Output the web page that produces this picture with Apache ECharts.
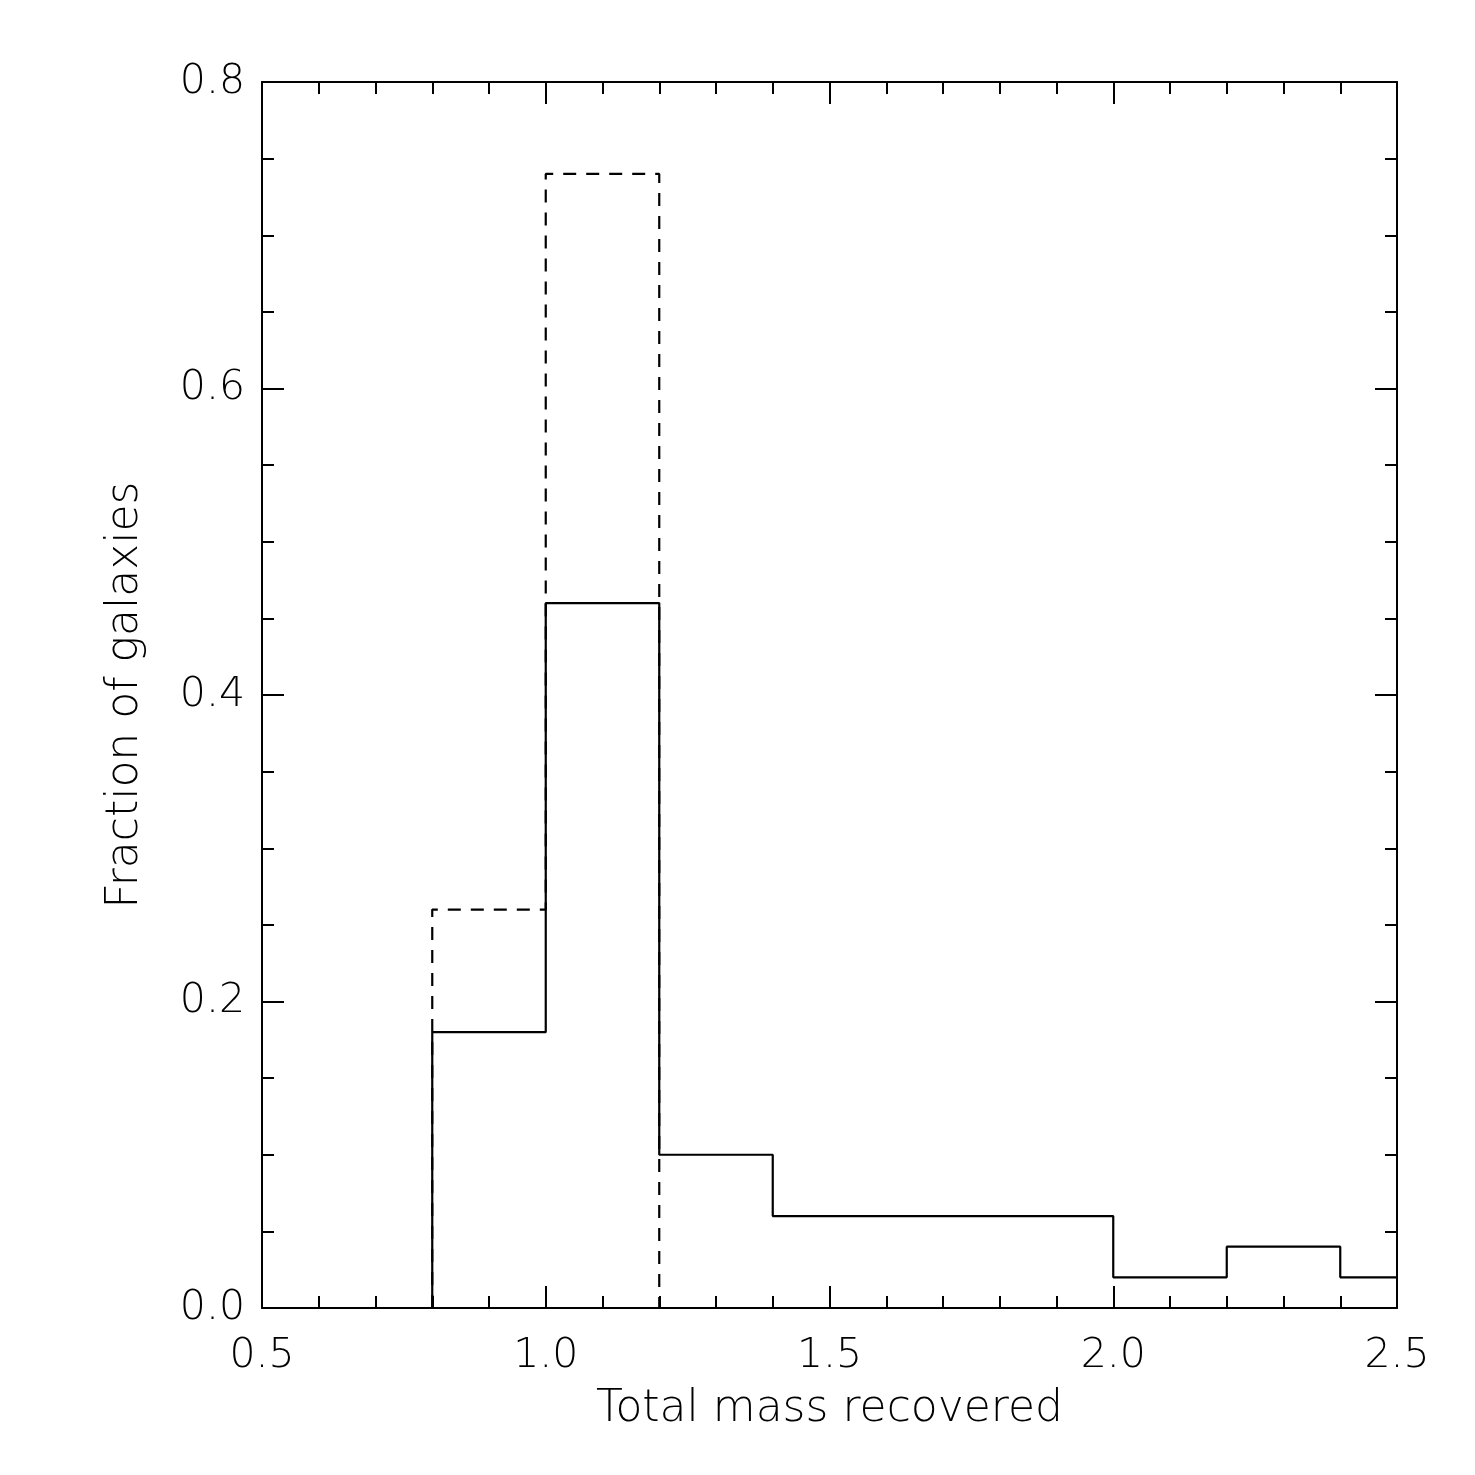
<!DOCTYPE html>
<html style="height: 100%">
<head>
<meta charset="utf-8">
<script src="https://cdn.jsdelivr.net/npm/echarts@6/dist/echarts.min.js"></script>
</head>
<body style="height: 100%; margin: 0; background: #fff">
<div id="container" style="width: 1475px; height: 1475px"></div>
<script type="text/javascript">
// histogram bin edges and fractions
var solidEdges = [0.8, 1.0, 1.2, 1.4, 1.6, 1.8, 2.0, 2.2, 2.4, 2.5];
var solidValues = [0.18, 0.46, 0.10, 0.06, 0.06, 0.06, 0.02, 0.04, 0.02];
var dashedEdges = [0.8, 1.0, 1.2];
var dashedValues = [0.26, 0.74];
var xTitle = 'Total mass recovered';
var yTitle = 'Fraction of galaxies';

// turn bins into a step outline
function outline(edges, values, closeEnd) {
    var pts = [[edges[0], 0]];
    for (var i = 0; i < values.length; i++) {
        pts.push([edges[i], values[i]]);
        pts.push([edges[i + 1], values[i]]);
    }
    if (closeEnd) pts.push([edges[edges.length - 1], 0]);
    return pts;
}

var font = 'DejaVu Sans';
var axisLine = { show: true, onZero: false, lineStyle: { color: '#000', width: 2 } };
var tickStyle = { color: '#000', width: 2 };

function xAx(pos, labels) {
    return {
        type: 'value', position: pos, min: 0.5, max: 2.5, interval: 0.5,
        axisLine: axisLine,
        axisTick: { show: true, inside: true, length: 22, lineStyle: tickStyle },
        minorTick: { show: true, splitNumber: 5, length: 12, lineStyle: tickStyle },
        axisLabel: { show: labels, color: '#000', fontFamily: font, fontWeight: 'lighter', fontSize: 41, margin: 28,
            formatter: function (v) { return v.toFixed(1); } },
        splitLine: { show: false },
        name: labels ? xTitle : '', nameLocation: 'middle', nameGap: 80,
        nameTextStyle: { color: '#000', fontFamily: font, fontWeight: 'lighter', fontSize: 44 }
    };
}
function yAx(pos, labels) {
    return {
        type: 'value', position: pos, min: 0, max: 0.8, interval: 0.2,
        axisLine: axisLine,
        axisTick: { show: true, inside: true, length: 22, lineStyle: tickStyle },
        minorTick: { show: true, splitNumber: 4, length: 12, lineStyle: tickStyle },
        axisLabel: { show: labels, color: '#000', fontFamily: font, fontWeight: 'lighter', fontSize: 41, margin: 17,
            formatter: function (v) { return v.toFixed(1); } },
        splitLine: { show: false },
        name: labels ? yTitle : '', nameLocation: 'middle', nameGap: 114,
        nameTextStyle: { color: '#000', fontFamily: font, fontWeight: 'lighter', fontSize: 44 }
    };
}

var myChart = echarts.init(document.getElementById('container'));
var option = {
    backgroundColor: '#fff',
    animation: false,
    grid: { left: 262, right: 78, top: 82, bottom: 167 },
    xAxis: [xAx('bottom', true), xAx('top', false)],
    yAxis: [yAx('left', true), yAx('right', false)],
    series: [
        {
            type: 'line', data: outline(solidEdges, solidValues, false),
            showSymbol: false, symbol: 'none',
            lineStyle: { color: '#000', width: 2.2 }
        },
        {
            type: 'line', data: outline(dashedEdges, dashedValues, true),
            showSymbol: false, symbol: 'none',
            lineStyle: { color: '#000', width: 2.2, type: [13, 10] }
        }
    ]
};
myChart.setOption(option);
</script>
</body>
</html>
